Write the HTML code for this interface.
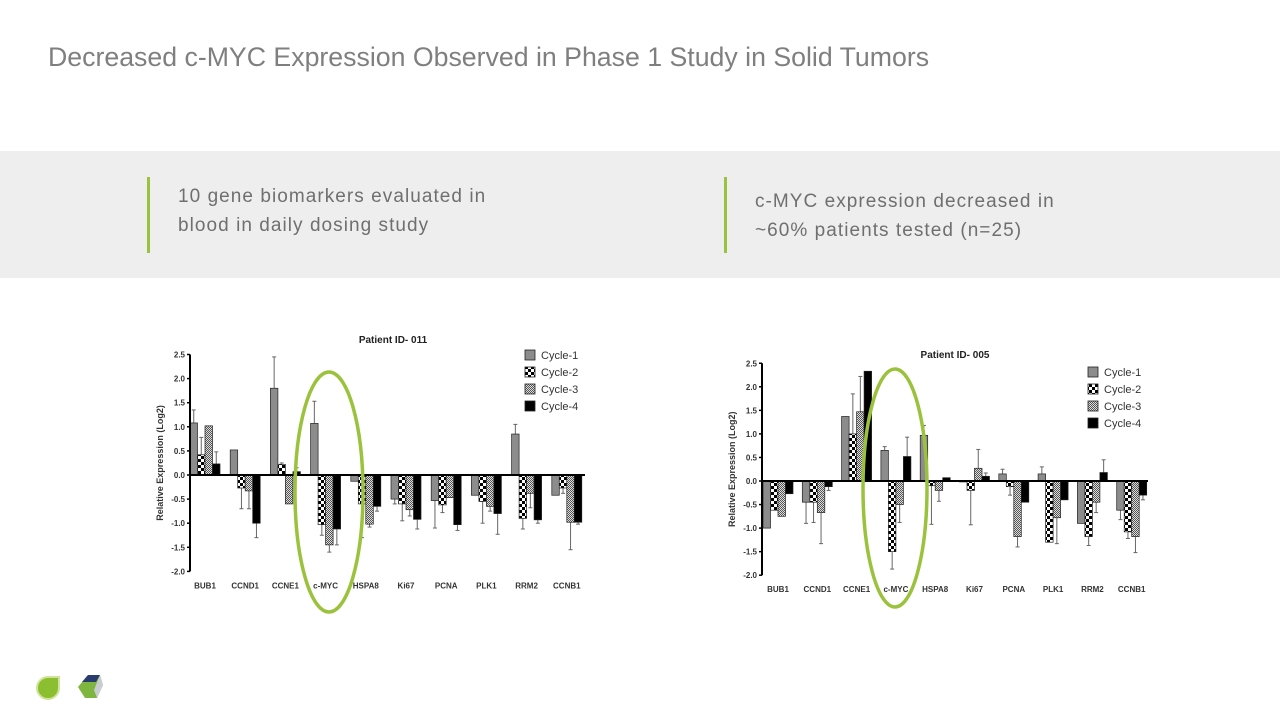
<!DOCTYPE html>
<html><head><meta charset="utf-8">
<style>
body{margin:0;width:1280px;height:720px;background:#fff;font-family:"Liberation Sans",sans-serif;overflow:hidden;position:relative}
.title{position:absolute;left:48px;top:42px;font-size:26.7px;color:#7f7f7f}
.band{position:absolute;left:0;top:151px;width:1280px;height:127px;background:#eeeeee}
.bul{position:absolute;top:177px;width:3px;height:76px;background:#9bc23c}
.txt{position:absolute;font-size:19px;color:#6f6f6f;line-height:29px;letter-spacing:1.05px}
svg{position:absolute;left:0;top:0}
</style></head><body>
<div class="title">Decreased c-MYC Expression Observed in Phase 1 Study in Solid Tumors</div>
<div class="band"></div>
<div class="bul" style="left:147px"></div>
<div class="txt" style="left:178px;top:182px">10 gene biomarkers evaluated in<br>blood in daily dosing study</div>
<div class="bul" style="left:724px"></div>
<div class="txt" style="left:755px;top:187px">c-MYC expression decreased in<br>~60% patients tested (n=25)</div>
<svg id="s" width="1280" height="720">
<defs>
<pattern id="p2" width="6" height="6" patternUnits="userSpaceOnUse"><rect width="6" height="6" fill="#000"/><rect width="3" height="3" fill="#fff"/><rect x="3" y="3" width="3" height="3" fill="#fff"/></pattern>
<pattern id="p3" width="2" height="2" patternUnits="userSpaceOnUse"><rect width="2" height="2" fill="#ddd"/><rect width="1" height="1" fill="#555"/><rect x="1" y="1" width="1" height="1" fill="#555"/></pattern>
</defs>
</svg>
<script>
const categories=["BUB1","CCND1","CCNE1","c-MYC","HSPA8","Ki67","PCNA","PLK1","RRM2","CCNB1"];
const seriesNames=["Cycle-1","Cycle-2","Cycle-3","Cycle-4"];
const yTicks=[2.5,2.0,1.5,1.0,0.5,0.0,-0.5,-1.0,-1.5,-2.0];
const p011c1=[1.08,0.52,1.8,1.07,-0.13,-0.5,-0.53,-0.42,0.85,-0.42];
const p011c2=[0.42,-0.27,0.22,-1.03,-0.6,-0.6,-0.62,-0.55,-0.9,-0.27];
const p011c3=[1.02,-0.33,-0.6,-1.45,-1.02,-0.72,-0.47,-0.65,-0.38,-0.98];
const p011c4=[0.23,-1.0,0.07,-1.12,-0.65,-0.92,-1.03,-0.8,-0.93,-0.98];
const p011e1=[1.35,null,2.45,1.53,null,-0.6,-1.1,null,1.05,null];
const p011e2=[0.78,-0.7,0.25,-1.25,-1.3,-0.95,-0.78,-1.0,-1.12,-0.38];
const p011e3=[null,-0.7,null,-1.6,-1.08,-0.85,null,-0.75,-0.68,-1.55];
const p011e4=[0.48,-1.3,0.15,-1.45,-0.75,-1.12,-1.15,-1.23,-1.0,-1.02];
const p005c1=[-1.0,-0.45,1.37,0.65,0.97,-0.02,0.15,0.15,-0.9,-0.62];
const p005c2=[-0.62,-0.45,1.0,-1.5,-0.1,-0.2,-0.12,-1.3,-1.18,-1.08];
const p005c3=[-0.75,-0.67,1.47,-0.5,-0.2,0.27,-1.18,-0.78,-0.45,-1.18];
const p005c4=[-0.27,-0.12,2.33,0.52,0.07,0.1,-0.45,-0.4,0.18,-0.3];
const p005e1=[null,-0.9,null,0.73,1.18,null,0.25,0.3,null,-0.82];
const p005e2=[null,-0.88,1.85,-1.87,-0.92,-0.93,-0.3,null,-1.37,-1.22];
const p005e3=[null,-1.33,2.22,-0.88,-0.43,0.67,-1.4,-1.33,-0.67,-1.52];
const p005e4=[null,-0.2,null,0.93,null,0.17,null,null,0.45,-0.4];
const svg=document.getElementById('s');
const NS="http://www.w3.org/2000/svg";
function mk(t,a,txt){const e=document.createElementNS(NS,t);for(const k in a)e.setAttribute(k,a[k]);if(txt!==undefined)e.textContent=txt;svg.appendChild(e);return e;}
const fills=["#8c8c8c","url(#p2)","url(#p3)","#000"];
function chart(id,ax,y0,unit,x1,first,spacing,vals,errs,title,tx,ty,lx,ly,ell){
  const Y=v=>y0-v*unit;
  const X=i=>first+i*spacing;
  const bw=7.5;
  for(let s=0;s<4;s++){
    for(let i=0;i<categories.length;i++){
      const v=vals[s][i];const x=X(i)-2*bw+s*bw;
      const e=errs[s][i];
      if(e!==null){const xm=x+bw/2;
        const l=mk('line',{x1:xm,x2:xm,y1:Y(v),y2:Y(e),stroke:'#666','stroke-width':1});
        
        
        const c=mk('line',{x1:xm-2,x2:xm+2,y1:Y(e),y2:Y(e),stroke:'#666','stroke-width':1});
        
        }
      const r=mk('rect',{x:x,y:Math.min(Y(v),Y(0)),width:bw,height:Math.abs(Y(v)-Y(0)),fill:fills[s],stroke:'#222','stroke-width':0.7});
      
      
    }
  }
  const a=mk('line',{x1:ax,x2:ax,y1:Y(2.5),y2:Y(-2.0),stroke:'#000','stroke-width':2});
  
  const z=mk('line',{x1:ax,x2:x1,y1:Y(0),y2:Y(0),stroke:'#000','stroke-width':2});
  
  yTicks.forEach(t=>{
    mk('line',{x1:ax-3,x2:ax,y1:Y(t),y2:Y(t),stroke:'#000','stroke-width':1.5});
    const tl=mk('text',{x:ax-5,y:Y(t)+3,'font-size':8,'font-weight':'bold','text-anchor':'end',fill:'#333'},t.toFixed(1));
    
  });
  categories.forEach((c,i)=>{
    const t=mk('text',{x:X(i),y:Y(-2.0)+17,'font-size':8,'font-weight':'bold','text-anchor':'middle',fill:'#333'},c);
    
  });
  const yt=mk('text',{x:0,y:0,'font-size':9,'font-weight':'bold','text-anchor':'middle',fill:'#333',transform:`translate(${ax-27},${Y(0.25)}) rotate(-90)`},'Relative Expression (Log2)');
  
  const tt=mk('text',{x:tx,y:ty,'font-size':10,'font-weight':'bold','text-anchor':'middle',fill:'#222'},title);
  
  seriesNames.forEach((n,s)=>{
    const r=mk('rect',{x:lx,y:ly+s*17-5,width:10,height:10,fill:fills[s],stroke:'#222','stroke-width':0.8});
    
    const t=mk('text',{x:lx+16,y:ly+s*17+4,'font-size':11,fill:'#333'},n);
    
  });
  const el=mk('ellipse',{cx:ell[0],cy:ell[1],rx:ell[2],ry:ell[3],fill:'none',stroke:'#9bc23c','stroke-width':3.5});
  
}
chart('patient-011',190,475,48.2,585,205,40.2,[p011c1,p011c2,p011c3,p011c4],[p011e1,p011e2,p011e3,p011e4],'Patient ID- 011',393,343,525,355,[329,492,34,120]);
chart('patient-005',762,481,47.1,1148,778,39.3,[p005c1,p005c2,p005c3,p005c4],[p005e1,p005e2,p005e3,p005e4],'Patient ID- 005',955,358,1088,372,[895,488,32,119]);
</script>
<svg width="110" height="40" style="left:30px;top:670px">
<path d="M7,18 A11,11 0 1 0 29,18 L29,7 L18,7 A11,11 0 0 0 7,18 Z" fill="#8cbf2f" stroke="#cfe39a" stroke-width="2"/>
<polygon points="58,5 70,5 73,15 67,28 55,28 48,17" fill="#7fb640"/>
<polygon points="58,5 70,5 66,12 52,12" fill="#2a3c6e"/>
<polygon points="70,5 73,15 67,28 64,20" fill="#c9ccd1"/>
</svg>
</body></html>
